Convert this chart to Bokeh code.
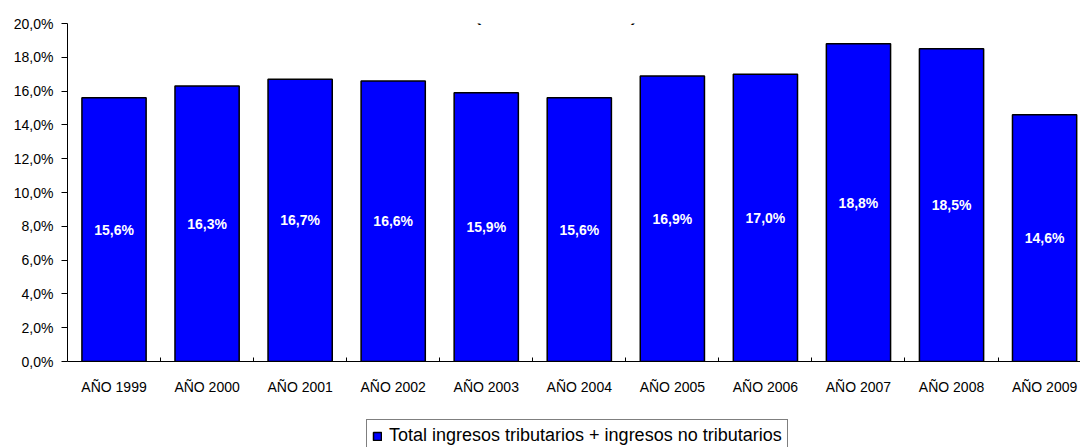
from bokeh.plotting import figure
from bokeh.models import (ColumnDataSource, FixedTicker, Range1d, Legend, LegendItem,
                          LabelSet, Label)
from bokeh.layouts import column
from bokeh.core.properties import value
from bokeh.embed import file_html
from bokeh.resources import INLINE

# ---- data ----
categories = ["AÑO 1999", "AÑO 2000", "AÑO 2001", "AÑO 2002", "AÑO 2003", "AÑO 2004",
              "AÑO 2005", "AÑO 2006", "AÑO 2007", "AÑO 2008", "AÑO 2009"]
values = [15.6, 16.3, 16.7, 16.6, 15.9, 15.6, 16.9, 17.0, 18.8, 18.5, 14.6]
y_ticks = [0, 2, 4, 6, 8, 10, 12, 14, 16, 18, 20]
series_name = "Total ingresos tributarios + ingresos no tributarios"
title_text = "(1999 - 2009)"

FONT = "Liberation Sans"
BAR_STYLE = dict(width=0.69, bottom=0, fill_color="#0000FF", line_color="black", line_width=1.5)

xs = [i + 0.5 for i in range(len(categories))]
labels = [f"{v:.1f}".replace(".", ",") + "%" for v in values]
src = ColumnDataSource(dict(x=xs, top=values, mid=[v / 2 for v in values], label=labels))

p = figure(width=1080, height=419, output_backend="svg", toolbar_location=None,
           x_range=Range1d(0, 10.886), y_range=Range1d(0, 20),
           min_border_left=67, min_border_right=0, min_border_top=23, min_border_bottom=58)
p.outline_line_color = None
p.xgrid.grid_line_color = None
p.ygrid.grid_line_color = None
p.background_fill_color = "white"
p.border_fill_color = "white"

bars = p.vbar(x="x", top="top", source=src, **BAR_STYLE)

p.add_layout(LabelSet(x="x", y="mid", text="label", source=src,
                      text_color="white", text_font=value(FONT), text_font_size="14px",
                      text_font_style="bold", text_align="center", text_baseline="middle"))

# x axis
p.xaxis.ticker = FixedTicker(ticks=xs, minor_ticks=list(range(1, len(categories))))
p.xaxis.major_label_overrides = {x: c for x, c in zip(xs, categories)}
p.xaxis.major_tick_in = 0
p.xaxis.major_tick_out = 0
p.xaxis.minor_tick_in = 4
p.xaxis.minor_tick_out = 0
p.xaxis.minor_tick_line_color = "black"
p.xaxis.axis_line_color = "black"
p.xaxis.major_label_standoff = 17
p.xaxis.major_label_text_font = FONT
p.xaxis.major_label_text_font_size = "14px"
p.xaxis.major_label_text_color = "black"

# y axis
p.yaxis.ticker = FixedTicker(ticks=y_ticks, minor_ticks=[])
p.yaxis.major_label_overrides = {t: f"{t:.1f}".replace(".", ",") + "%" for t in y_ticks}
p.yaxis.major_tick_in = 0
p.yaxis.major_tick_out = 6
p.yaxis.major_tick_line_color = "black"
p.yaxis.axis_line_color = "black"
p.yaxis.major_label_standoff = 8
p.yaxis.major_label_text_font = FONT
p.yaxis.major_label_text_font_size = "14px"
p.yaxis.major_label_text_color = "black"

# title (cut off at top in the reference)
p.add_layout(Label(x=5.25, y=20.85, text=title_text, text_font=FONT, text_font_size="28px",
                   text_align="center", text_baseline="alphabetic", text_color="black"))

# ---- legend strip below: its bars are scaled down so they sit hidden behind the
# opaque legend box; only the legend itself shows ----
q = figure(width=1080, height=28, output_backend="svg", toolbar_location=None,
           x_range=Range1d(-8, 19), y_range=Range1d(-20, 40),
           x_axis_location=None, y_axis_location=None,
           min_border_left=0, min_border_right=0, min_border_top=0, min_border_bottom=0)
q.outline_line_color = None
q.xgrid.grid_line_color = None
q.ygrid.grid_line_color = None
q.border_fill_color = "white"
q.background_fill_color = "white"
legend_bars = q.vbar(x="x", top="top", source=src, **BAR_STYLE)

legend = Legend(items=[LegendItem(label=series_name, renderers=[legend_bars])],
                location=(299, -5), orientation="horizontal",
                glyph_width=10, glyph_height=10, padding=5, spacing=0,
                label_standoff=7, label_text_font=FONT, label_text_font_size="18px",
                label_text_color="black", border_line_color="black", border_line_width=1,
                background_fill_color="white", background_fill_alpha=1, margin=0)
q.add_layout(legend, "center")

layout = column(p, q, spacing=0)
open("out.html", "w").write(file_html(layout, INLINE))
